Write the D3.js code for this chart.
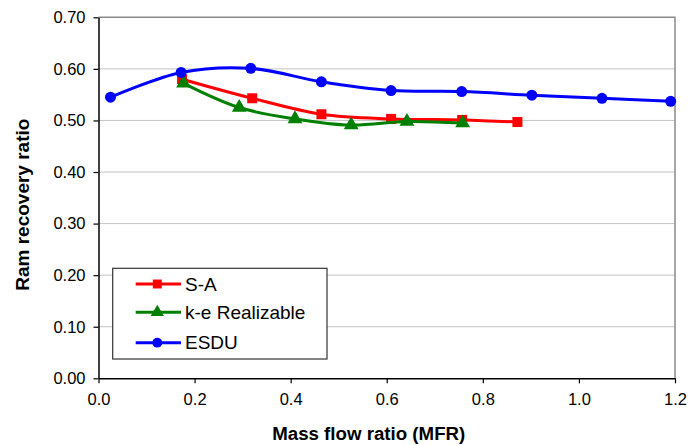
<!DOCTYPE html>
<html>
<head>
<meta charset="utf-8">
<script src="https://cdn.jsdelivr.net/npm/d3@7"></script>
<style>
  body { margin: 0; background: #fff; }
  text { font-family: "Liberation Sans", Arial, sans-serif; fill: #000; }
</style>
</head>
<body>
<div id="chart"></div>
<script>
// values
var seriesNames = ["S-A", "k-e Realizable", "ESDU"];
var saX   = [0.174, 0.320, 0.464, 0.609, 0.757, 0.872];
var saY   = [0.580, 0.543, 0.512, 0.503, 0.501, 0.497];
var keX   = [0.177, 0.293, 0.409, 0.526, 0.642, 0.758];
var keY   = [0.572, 0.525, 0.503, 0.491, 0.498, 0.495];
var esduX = [0.025, 0.172, 0.317, 0.464, 0.609, 0.756, 0.902, 1.048, 1.191];
var esduY = [0.545, 0.593, 0.601, 0.575, 0.558, 0.556, 0.549, 0.543, 0.537];
var xTicks = [0, 0.2, 0.4, 0.6, 0.8, 1.0, 1.2];
var yTicks = [0, 0.1, 0.2, 0.3, 0.4, 0.5, 0.6, 0.7];

var W = 689, H = 445;
var margin = {top: 17.3, right: 14, bottom: 66.7, left: 98.5},
    width = W - margin.left - margin.right,
    height = H - margin.top - margin.bottom;

var x = d3.scaleLinear().domain([0, 1.2]).range([0, width]);
var y = d3.scaleLinear().domain([0, 0.7]).range([height, 0]);

var svg = d3.select("#chart").append("svg")
    .attr("width", W).attr("height", H);
var g = svg.append("g")
    .attr("transform", "translate(" + margin.left + "," + margin.top + ")");

// grid lines
g.selectAll(".grid").data(yTicks.filter(function(d) { return d > 0 && d < 0.7; }))
  .enter().append("line")
    .attr("x1", 0).attr("x2", width)
    .attr("y1", function(d) { return y(d); }).attr("y2", function(d) { return y(d); })
    .attr("stroke", "#c4c4c4").attr("stroke-width", 1);

// plot area frame (top and right in gray)
g.append("path")
    .attr("d", "M0," + y(0.7) + "H" + x(1.2) + "V" + y(0))
    .attr("fill", "none").attr("stroke", "#8a8a8a").attr("stroke-width", 1.5);

// axes
var xAxis = d3.axisBottom(x).tickValues(xTicks).tickFormat(d3.format(".1f"))
    .tickSizeInner(5).tickSizeOuter(0).tickPadding(10);
var yAxis = d3.axisLeft(y).tickValues(yTicks).tickFormat(d3.format(".2f"))
    .tickSizeInner(5).tickSizeOuter(0).tickPadding(8);

var gx = g.append("g").attr("transform", "translate(0," + height + ")").call(xAxis);
var gy = g.append("g").call(yAxis);
[gx, gy].forEach(function(a) {
  a.select(".domain").attr("stroke", "#000").attr("stroke-width", 1.5);
  a.selectAll(".tick line").attr("stroke", "#000").attr("stroke-width", 1.2);
  a.selectAll(".tick text").attr("font-size", "16.5px")
    .attr("font-family", "Liberation Sans, Arial, sans-serif");
});

// series
var series = [
  {name: seriesNames[0], xs: saX, ys: saY, color: "#ff0000", symbol: d3.symbolSquare, size: 100},
  {name: seriesNames[1], xs: keX, ys: keY, color: "#008000", symbol: d3.symbolTriangle, size: 95},
  {name: seriesNames[2], xs: esduX, ys: esduY, color: "#0000ff", symbol: d3.symbolCircle, size: 95}
];

var line = d3.line()
    .x(function(d) { return x(d[0]); })
    .y(function(d) { return y(d[1]); })
    .curve(d3.curveCatmullRom.alpha(0.5));

series.forEach(function(s) {
  var pts = s.xs.map(function(v, i) { return [v, s.ys[i]]; });
  g.append("path").datum(pts)
    .attr("d", line)
    .attr("fill", "none").attr("stroke", s.color).attr("stroke-width", 3);
  g.selectAll(null).data(pts).enter().append("path")
    .attr("d", d3.symbol().type(s.symbol).size(s.size))
    .attr("transform", function(d) { return "translate(" + x(d[0]) + "," + y(d[1]) + ")"; })
    .attr("fill", s.color);
});

// axis titles
svg.append("text")
    .attr("x", margin.left + x(0.5625)).attr("y", 440)
    .attr("text-anchor", "middle")
    .attr("font-size", "18.7px").attr("font-weight", "bold")
    .text("Mass flow ratio (MFR)");
svg.append("text")
    .attr("transform", "translate(28.5," + 204.7 + ") rotate(-90)")
    .attr("text-anchor", "middle")
    .attr("font-size", "19px").attr("font-weight", "bold")
    .text("Ram recovery ratio");

// legend
var lg = svg.append("g").attr("transform", "translate(112.7,268.3)");
lg.append("rect").attr("width", 214.3).attr("height", 90.7)
    .attr("fill", "#fff").attr("stroke", "#333").attr("stroke-width", 1.2);
var rowY = [15.7, 44, 74.4];
series.forEach(function(s, i) {
  var r = lg.append("g").attr("transform", "translate(0," + rowY[i] + ")");
  r.append("line").attr("x1", 23).attr("x2", 68.3)
    .attr("stroke", s.color).attr("stroke-width", 3);
  r.append("path")
    .attr("d", d3.symbol().type(s.symbol).size(s.size * 0.8))
    .attr("transform", "translate(44.6,0)")
    .attr("fill", s.color);
  r.append("text").attr("x", 72.3).attr("dy", "0.35em")
    .attr("font-size", "19px").text(s.name);
});
</script>
</body>
</html>
